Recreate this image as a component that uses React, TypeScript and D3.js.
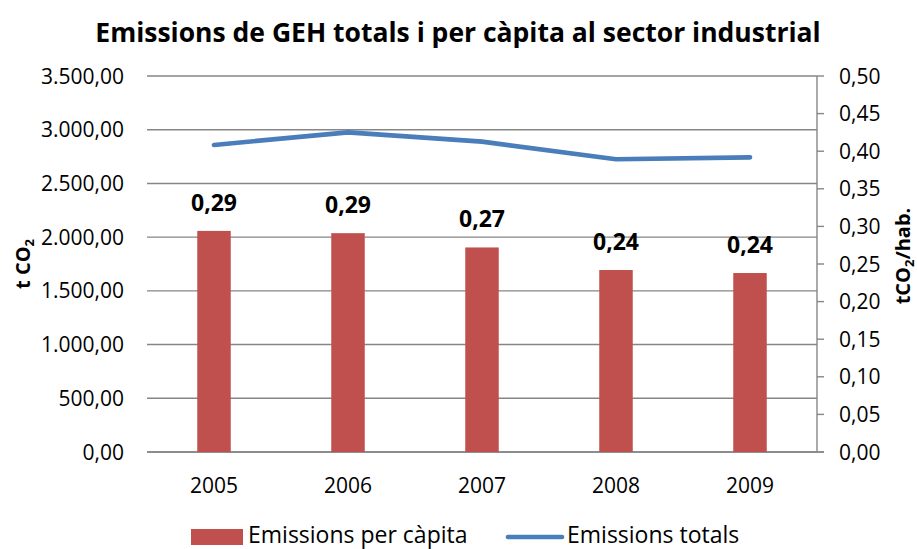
import React from "react";
import * as d3 from "d3";

const categories = ["2005", "2006", "2007", "2008", "2009"];
const perCapita = [0.294, 0.291, 0.272, 0.242, 0.238];
const totals = [2858, 2976, 2889, 2725, 2743];
const leftTicks = [0, 500, 1000, 1500, 2000, 2500, 3000, 3500];
const rightTicks = [0, 0.05, 0.1, 0.15, 0.2, 0.25, 0.3, 0.35, 0.4, 0.45, 0.5];

const W = 917;
const H = 549;
const M = { left: 147, right: 817, top: 76, bottom: 452 };
const FONT = "'Open Sans', 'Noto Sans', sans-serif";
const GRID = "#868686";
const BAR = "#C0504D";
const LINE = "#4A7EBB";

const fmt = (v: number, d: number) => {
  const s = v.toFixed(d);
  const [i, f] = s.split(".");
  const ii = i.replace(/\B(?=(\d{3})+(?!\d))/g, ".");
  return f ? `${ii},${f}` : ii;
};

export default function App() {
  const x = d3.scaleBand<string>().domain(categories).range([M.left, M.right]).paddingInner(0).paddingOuter(0);
  const yL = d3.scaleLinear().domain([0, 3500]).range([M.bottom, M.top]);
  const yR = d3.scaleLinear().domain([0, 0.5]).range([M.bottom, M.top]);
  const bw = x.bandwidth() * 0.25;
  const line = d3
    .line<number>()
    .x((_, i) => (x(categories[i]) as number) + x.bandwidth() / 2)
    .y((d) => yL(d));

  return (
    <svg width={W} height={H} style={{ position: "absolute", left: 0, top: 0, background: "#fff" }} fontFamily={FONT}>
      <text x={458} y={42} textAnchor="middle" fontSize={26.5} fontWeight="bold" fill="#000">
        Emissions de GEH totals i per càpita al sector industrial
      </text>
      {leftTicks.map((t) => (
        <g key={"l" + t}>
          <line x1={M.left} x2={M.right} y1={yL(t)} y2={yL(t)} stroke={GRID} strokeWidth={1.4} />
          <text x={124} y={yL(t) + 7.5} textAnchor="end" fontSize={21} fill="#000">
            {fmt(t, 2)}
          </text>
        </g>
      ))}
      <line x1={M.right} x2={M.right} y1={M.top} y2={M.bottom} stroke={GRID} strokeWidth={1.4} />
      <line x1={M.left} x2={M.right + 7} y1={M.bottom} y2={M.bottom} stroke={GRID} strokeWidth={1.4} />
      {rightTicks.map((t) => (
        <g key={"r" + t}>
          <line x1={M.right} x2={M.right + 7} y1={yR(t)} y2={yR(t)} stroke={GRID} strokeWidth={1.4} />
          <text x={839} y={yR(t) + 7.5} textAnchor="start" fontSize={21} fill="#000">
            {fmt(t, 2)}
          </text>
        </g>
      ))}
      {categories.map((c, i) => (
        <g key={c}>
          <rect
            x={(x(c) as number) + x.bandwidth() / 2 - bw / 2}
            y={yR(perCapita[i])}
            width={bw}
            height={M.bottom - yR(perCapita[i])}
            fill={BAR}
          />
          <text
            x={(x(c) as number) + x.bandwidth() / 2}
            y={yR(perCapita[i]) - 20}
            textAnchor="middle"
            fontSize={23}
            fontWeight="bold"
            fill="#000"
          >
            {fmt(perCapita[i], 2)}
          </text>
          <text x={(x(c) as number) + x.bandwidth() / 2} y={493} textAnchor="middle" fontSize={21} fill="#000">
            {c}
          </text>
        </g>
      ))}
      <path d={line(totals) || ""} fill="none" stroke={LINE} strokeWidth={4.7} strokeLinecap="round" strokeLinejoin="round" />
      <text transform="translate(30,264) rotate(-90)" textAnchor="middle" fontSize={20} fontWeight="bold" fill="#000">
        t CO<tspan fontSize={13} dy={4}>2</tspan>
      </text>
      <text transform="translate(910,256) rotate(-90)" textAnchor="middle" fontSize={20} fontWeight="bold" fill="#000">
        tCO<tspan fontSize={13} dy={4}>2</tspan>
        <tspan dy={-4}>/hab.</tspan>
      </text>
      <rect x={191} y={529} width={52} height={16} fill={BAR} />
      <text x={248} y={543} fontSize={23} fill="#000">
        Emissions per càpita
      </text>
      <line x1={508} x2={562} y1={537} y2={537} stroke={LINE} strokeWidth={4.7} strokeLinecap="round" />
      <text x={567} y={543} fontSize={23} fill="#000">
        Emissions totals
      </text>
    </svg>
  );
}
